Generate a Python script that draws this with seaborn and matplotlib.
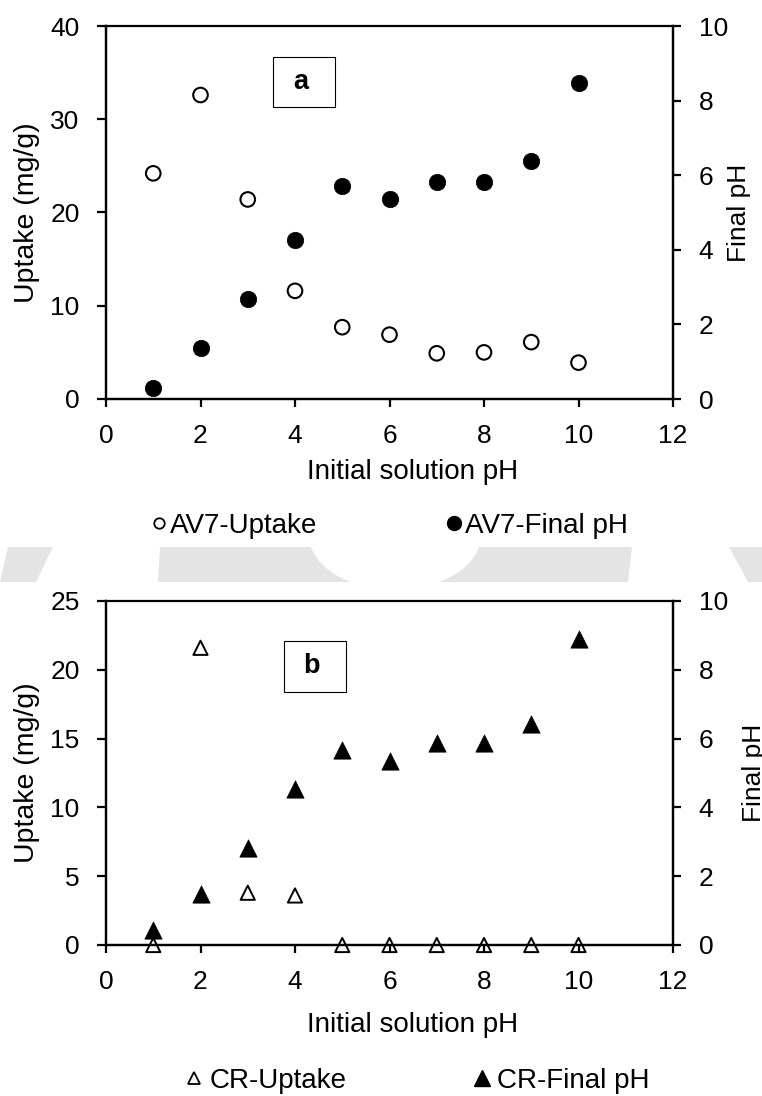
import matplotlib
matplotlib.use("Agg")
import matplotlib.pyplot as plt
import seaborn as sns
from matplotlib.lines import Line2D
from matplotlib.patches import Polygon, Ellipse, Rectangle

# ---------------- data ----------------
initial_ph = [1, 2, 3, 4, 5, 6, 7, 8, 9, 10]
av7_uptake = [24.2, 32.6, 21.4, 11.6, 7.7, 6.9, 4.9, 5.0, 6.1, 3.9]
av7_final_ph = [0.30, 1.37, 2.67, 4.26, 5.72, 5.36, 5.82, 5.82, 6.39, 8.48]
cr_uptake = [0.0, 21.6, 3.8, 3.6, 0.0, 0.0, 0.0, 0.0, 0.0, 0.0]
cr_final_ph = [0.44, 1.48, 2.83, 4.53, 5.66, 5.35, 5.86, 5.86, 6.43, 8.89]

x_ticks = [0, 2, 4, 6, 8, 10, 12]
a_left_ticks = [0, 10, 20, 30, 40]
b_left_ticks = [0, 5, 10, 15, 20, 25]
right_ticks = [0, 2, 4, 6, 8, 10]

x_label = "Initial solution pH"
left_label = "Uptake (mg/g)"
right_label = "Final pH"
a_legend = ["AV7-Uptake", "AV7-Final pH"]
b_legend = ["CR-Uptake", "CR-Final pH"]

# ---------------- style ----------------
sns.set_theme(style="ticks")
plt.rcParams["font.family"] = ["Liberation Sans", "DejaVu Sans"]

W, H = 762, 1096
fig = plt.figure(figsize=(W / 100, H / 100), dpi=100)


def fx(x):
    return x / W


def fy(y):
    return 1 - y / H


TICK_FS = 19
LAB_FS = 20
LEFT_LAB_FS = 20.5
RIGHT_LAB_FS = 19
LEG_FS = 20

# watermark band between the panels
grey = "#e4e4e4"
wm = [
    [(8, 547), (53, 547), (36, 582), (0, 582)],
    [(160, 547), (632, 547), (628, 582), (158, 582)],
    [(729, 547), (762, 547), (762, 582), (748, 582)],
]
for poly in wm:
    fig.add_artist(Polygon([(fx(a), fy(b)) for a, b in poly], closed=True,
                           transform=fig.transFigure, fc=grey, ec="none", zorder=-2))
fig.add_artist(Ellipse((fx(395), fy(535)), 172 / W, 110 / H, transform=fig.transFigure,
                       fc="white", ec="none", zorder=-1))


def make_panel(rect, uptake, final_ph, ylim_left, left_ticks, marker, label_text, box,
               ylab_r_x, xlab_y):
    ax = fig.add_axes(rect)
    ax2 = ax.twinx()

    if marker == "o":
        s_open, s_fill, lw_open = 110, 140, 1.5
    else:
        s_open, s_fill, lw_open = 105, 155, 1.4

    sns.scatterplot(x=initial_ph, y=uptake, ax=ax, marker=marker, s=s_open,
                    facecolor="none", edgecolor="black", linewidth=lw_open,
                    clip_on=False, zorder=4, legend=False)
    sns.scatterplot(x=initial_ph, y=final_ph, ax=ax2, marker=marker, s=s_fill,
                    color="black", edgecolor="black", linewidth=0.5,
                    clip_on=False, zorder=4, legend=False)

    ax.set_xlim(0, 12)
    ax.set_ylim(*ylim_left)
    ax2.set_ylim(0, 10)
    ax.set_xticks(x_ticks)
    ax.set_yticks(left_ticks)
    ax2.set_yticks(right_ticks)
    ax.set_xticklabels([str(t) for t in x_ticks])
    ax.set_yticklabels([str(t) for t in left_ticks])
    ax2.set_yticklabels([str(t) for t in right_ticks])

    for a in (ax, ax2):
        for sp in a.spines.values():
            sp.set_visible(True)
            sp.set_color("black")
            sp.set_linewidth(1.6)
    ax.spines["top"].set_linewidth(1.3)

    ax.tick_params(axis="x", which="both", bottom=True, top=False, direction="out",
                   length=6, width=1.6, color="black", labelsize=TICK_FS, pad=12,
                   labelcolor="black")
    ax.tick_params(axis="y", which="both", left=True, right=False, direction="out",
                   length=6.5, width=1.6, color="black", labelsize=TICK_FS, pad=12.5,
                   labelcolor="black")
    ax2.tick_params(axis="y", which="both", right=True, left=False, direction="out",
                    length=6, width=1.6, color="black", labelsize=TICK_FS, pad=12.5,
                    labelcolor="black")

    ax.set_xlabel(x_label, fontsize=LAB_FS, color="black")
    ax.set_ylabel(left_label, fontsize=LEFT_LAB_FS, color="black")
    ax2.set_ylabel(right_label, fontsize=RIGHT_LAB_FS, color="black")
    ax.xaxis.set_label_coords(0.541, xlab_y)
    ax.yaxis.set_label_coords(-0.116, 0.5)
    ax2.yaxis.set_label_coords(ylab_r_x, 0.5)

    x0, y0, x1, y1 = box
    ax.add_patch(Rectangle((x0, y0), x1 - x0, y1 - y0, transform=ax.transAxes,
                           fc="white", ec="black", lw=0.8, zorder=5))
    ax.text((x0 + x1) / 2 - 0.006, (y0 + y1) / 2, label_text, transform=ax.transAxes,
            ha="center", va="center", fontsize=19.5, fontweight="bold", color="black",
            zorder=6)
    return ax, ax2


# panel a: axes px left 106, right 673, top 26, bottom 399
rect_a = [fx(106), fy(399), 567 / W, 373 / H]
make_panel(rect_a, av7_uptake, av7_final_ph, (0, 40), a_left_ticks, "o", "a",
           (0.2945, 0.7828, 0.4039, 0.9169), 1.096, -0.162)

# panel b: axes px top 601, bottom 945
rect_b = [fx(106), fy(945), 567 / W, 344 / H]
make_panel(rect_b, cr_uptake, cr_final_ph, (0, 25), b_left_ticks, "^", "b",
           (0.314, 0.7355, 0.423, 0.8837), 1.122, -0.196)


def add_leg(label, handle, left_px, center_px, hl, htp):
    fig.legend(handles=[handle], labels=[label], loc="center left",
               bbox_to_anchor=(fx(left_px), fy(center_px)), bbox_transform=fig.transFigure,
               frameon=False, fontsize=LEG_FS, borderpad=0, borderaxespad=0,
               handlelength=hl, handletextpad=htp, labelcolor="black")


h_oc = Line2D([], [], ls="none", marker="o", ms=7.5, mfc="none", mec="black", mew=1.3)
h_fc = Line2D([], [], ls="none", marker="o", ms=10, mfc="black", mec="black")
h_ot = Line2D([], [], ls="none", marker="^", ms=9, mfc="none", mec="black", mew=1.3)
h_ft = Line2D([], [], ls="none", marker="^", ms=11, mfc="black", mec="black")

add_leg(a_legend[0], h_oc, 153, 526, 0.4, 0.2)
add_leg(a_legend[1], h_fc, 448, 526, 0.4, 0.2)
add_leg(b_legend[0], h_ot, 187, 1081, 0.5, 0.3)
add_leg(b_legend[1], h_ft, 475, 1081, 0.5, 0.3)

fig.savefig("out.png", dpi=100)
